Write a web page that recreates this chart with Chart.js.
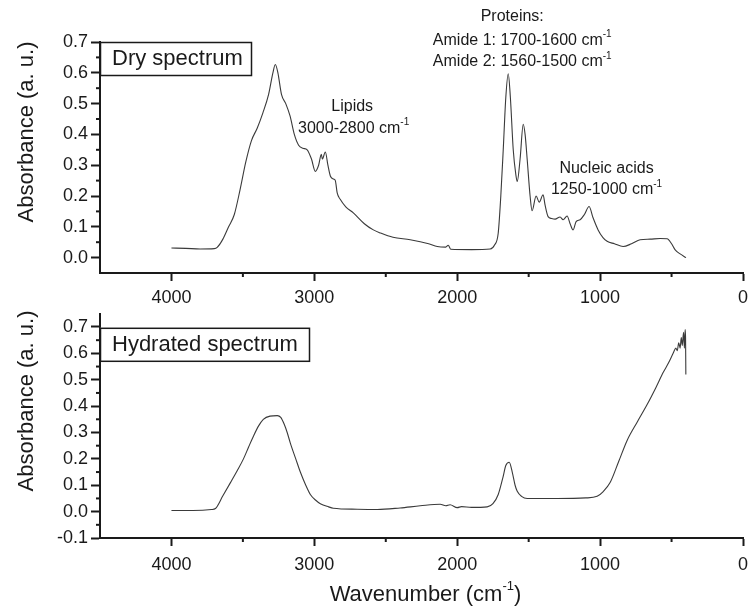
<!DOCTYPE html>
<html>
<head>
<meta charset="utf-8">
<script src="https://cdn.jsdelivr.net/npm/chart.js@4.4.0/dist/chart.umd.min.js"></script>
<style>
  body { margin: 0; background: #fff; width: 749px; height: 609px; position: relative; overflow: hidden; }
  canvas { position: absolute; left: 0; }
</style>
</head>
<body>
<canvas id="dryChart" width="749" height="330" style="top:0"></canvas>
<canvas id="hydChart" width="749" height="309" style="top:300px"></canvas>
<script>
// dry spectrum (wavenumber cm-1, absorbance)
const dryWavenumber = [4000, 3900, 3800, 3700, 3680, 3640, 3600, 3560, 3520, 3480, 3440, 3400, 3360, 3320, 3290, 3273, 3255, 3230, 3200, 3170, 3140, 3110, 3080, 3050, 3020, 2993, 2970, 2951, 2944, 2923, 2905, 2888, 2865, 2853, 2840, 2820, 2780, 2727, 2650, 2587, 2538, 2450, 2329, 2200, 2140, 2080, 2063, 2045, 1900, 1769, 1740, 1713, 1695, 1678, 1660, 1643, 1628, 1608, 1590, 1580, 1560, 1538, 1525, 1510, 1490, 1476, 1448, 1426, 1399, 1385, 1364, 1340, 1315, 1280, 1259, 1231, 1210, 1189, 1168, 1140, 1110, 1077, 1050, 1014, 980, 951, 900, 839, 780, 720, 650, 580, 531, 500, 476, 440, 399];
const dryAbsorbance = [0.031, 0.030, 0.028, 0.029, 0.033, 0.06, 0.10, 0.14, 0.22, 0.31, 0.38, 0.42, 0.47, 0.53, 0.60, 0.627, 0.60, 0.53, 0.50, 0.46, 0.40, 0.365, 0.355, 0.35, 0.32, 0.28, 0.30, 0.335, 0.32, 0.343, 0.30, 0.265, 0.255, 0.25, 0.21, 0.19, 0.165, 0.145, 0.11, 0.09, 0.08, 0.066, 0.058, 0.045, 0.036, 0.034, 0.040, 0.027, 0.026, 0.028, 0.04, 0.08, 0.20, 0.35, 0.52, 0.597, 0.52, 0.35, 0.27, 0.247, 0.32, 0.433, 0.40, 0.317, 0.20, 0.152, 0.20, 0.18, 0.204, 0.17, 0.133, 0.127, 0.125, 0.132, 0.123, 0.135, 0.11, 0.09, 0.117, 0.123, 0.14, 0.166, 0.13, 0.09, 0.065, 0.053, 0.045, 0.036, 0.045, 0.058, 0.060, 0.062, 0.061, 0.045, 0.026, 0.012, 0.0];

// hydrated spectrum
const hydWavenumber = [4000, 3850, 3720, 3692, 3640, 3587, 3540, 3496, 3460, 3427, 3390, 3357, 3310, 3259, 3235, 3210, 3190, 3168, 3130, 3098, 3060, 3028, 2990, 2958, 2900, 2867, 2700, 2559, 2400, 2259, 2119, 2080, 2050, 2000, 1970, 1900, 1790, 1750, 1713, 1680, 1660, 1636, 1615, 1595, 1580, 1550, 1510, 1300, 1100, 1021, 980, 930, 870, 811, 740, 671, 610, 559, 520, 489, 470, 460, 450, 440, 432, 425, 416, 410, 405, 402, 400];
const hydAbsorbance = [0.004, 0.004, 0.008, 0.012, 0.06, 0.11, 0.155, 0.20, 0.245, 0.285, 0.325, 0.35, 0.362, 0.364, 0.357, 0.33, 0.30, 0.26, 0.20, 0.15, 0.10, 0.065, 0.043, 0.03, 0.018, 0.013, 0.009, 0.008, 0.014, 0.022, 0.028, 0.022, 0.026, 0.015, 0.019, 0.016, 0.018, 0.03, 0.065, 0.13, 0.175, 0.187, 0.15, 0.10, 0.077, 0.058, 0.05, 0.05, 0.052, 0.058, 0.075, 0.11, 0.19, 0.27, 0.34, 0.406, 0.47, 0.527, 0.565, 0.60, 0.62, 0.61, 0.64, 0.62, 0.66, 0.63, 0.68, 0.62, 0.69, 0.66, 0.52];

const xTicks = [0, 1000, 2000, 3000, 4000];
const xMinor = [500, 1500, 2500, 3500];
const dryYTicks = [0, 0.1, 0.2, 0.3, 0.4, 0.5, 0.6, 0.7];
const dryYMinor = [0.05, 0.15, 0.25, 0.35, 0.45, 0.55, 0.65];
const hydYTicks = [-0.1, 0, 0.1, 0.2, 0.3, 0.4, 0.5, 0.6, 0.7];
const hydYMinor = [-0.05, 0.05, 0.15, 0.25, 0.35, 0.45, 0.55, 0.65];

// text notes on the dry plot: [text, superscript, wavenumber, absorbance]
const dryNotes = [
  ["Lipids", "", 2735, 0.49],
  ["3000-2800 cm", "-1", 2725, 0.42],
  ["Proteins:", "", 1615, 0.781],
  ["Amide 1: 1700-1600 cm", "-1", 1545, 0.705],
  ["Amide 2: 1560-1500 cm", "-1", 1545, 0.635],
  ["Nucleic acids", "", 955, 0.29],
  ["1250-1000 cm", "-1", 955, 0.22]
];

const FONT = "'Liberation Sans', Arial, sans-serif";
const INK = "#1a1a1a";

function toPoints(xs, ys) {
  return xs.map((x, i) => ({ x: x, y: ys[i] }));
}

// text with a raised "-1" and optional text after it, centred on cx
function supText(ctx, main, sup, cx, cy, size, tail) {
  tail = tail || "";
  const supSize = Math.round(size * 0.6);
  ctx.font = size + "px " + FONT;
  const w1 = ctx.measureText(main).width;
  const w3 = ctx.measureText(tail).width;
  ctx.font = supSize + "px " + FONT;
  const w2 = sup ? ctx.measureText(sup).width : 0;
  const x = cx - (w1 + w2 + w3) / 2;
  ctx.textAlign = "left";
  ctx.textBaseline = "middle";
  ctx.font = size + "px " + FONT;
  ctx.fillText(main, x, cy);
  if (tail) ctx.fillText(tail, x + w1 + w2, cy);
  if (sup) {
    ctx.font = supSize + "px " + FONT;
    ctx.fillText(sup, x + w1, cy - size * 0.38);
  }
}

const decorations = {
  id: "decorations",
  afterDraw(chart, args, opts) {
    const { ctx, chartArea, scales: { x, y } } = chart;
    ctx.save();
    ctx.strokeStyle = INK;
    ctx.fillStyle = INK;
    ctx.lineWidth = 2;
    // minor ticks
    xMinor.forEach(v => {
      const px = x.getPixelForValue(v);
      ctx.beginPath(); ctx.moveTo(px, chartArea.bottom); ctx.lineTo(px, chartArea.bottom + 4); ctx.stroke();
    });
    opts.yMinor.forEach(v => {
      const py = y.getPixelForValue(v);
      ctx.beginPath(); ctx.moveTo(chartArea.left, py); ctx.lineTo(chartArea.left - 4, py); ctx.stroke();
    });
    // label box
    ctx.lineWidth = 1.5;
    const b = opts.box;
    ctx.fillStyle = "#fff";
    ctx.fillRect(chartArea.left, chartArea.top + b.dy, b.w, 33);
    ctx.strokeRect(chartArea.left + 0.5, chartArea.top + b.dy + 0.5, b.w, 33);
    ctx.fillStyle = INK;
    ctx.font = "22px " + FONT;
    ctx.textAlign = "left";
    ctx.textBaseline = "middle";
    ctx.fillText(b.text, chartArea.left + 12, chartArea.top + b.dy + 17);
    // y title
    ctx.save();
    ctx.translate(27, opts.yTitleY);
    ctx.rotate(-Math.PI / 2);
    ctx.textAlign = "center";
    ctx.fillText("Absorbance (a. u.)", 0, 0);
    ctx.restore();
    // notes
    (opts.notes || []).forEach(n => {
      supText(ctx, n[0], n[1], x.getPixelForValue(n[2]), y.getPixelForValue(n[3]), 16);
    });
    if (opts.xTitle) {
      supText(ctx, "Wavenumber (cm", "-1", (chartArea.left + chartArea.right) / 2 + 4, opts.xTitleY, 22, ")");
    }
    ctx.restore();
  }
};

function makeChart(id, points, yMin, yMax, yTicks, xHeight, padTop, labelPad, deco) {
  return new Chart(document.getElementById(id), {
    type: "scatter",
    data: {
      datasets: [{
        data: points,
        showLine: true,
        borderColor: "#3a3a3a",
        borderWidth: 1.1,
        pointRadius: 0,
        cubicInterpolationMode: "monotone"
      }]
    },
    options: {
      responsive: false,
      animation: false,
      events: [],
      layout: { padding: { top: padTop, right: 6, left: 0, bottom: 0 } },
      plugins: { legend: { display: false }, tooltip: { enabled: false }, decorations: deco },
      scales: {
        x: {
          type: "linear", reverse: true, min: 0, max: 4500,
          afterBuildTicks: s => { s.ticks = xTicks.map(v => ({ value: v })); },
          afterFit: s => { s.height = xHeight; },
          grid: { drawOnChartArea: false, tickLength: 8, tickWidth: 2, tickColor: INK },
          border: { color: INK, width: 2 },
          ticks: { font: { size: 18, family: FONT }, color: INK, padding: labelPad, maxRotation: 0, callback: v => String(v) }
        },
        y: {
          min: yMin, max: yMax,
          afterBuildTicks: s => { s.ticks = yTicks.map(v => ({ value: v })); },
          afterFit: s => { s.width = 100; },
          grid: { drawOnChartArea: false, tickLength: 9, tickWidth: 2, tickColor: INK },
          border: { color: INK, width: 2 },
          ticks: { font: { size: 18, family: FONT }, color: INK, padding: 3, callback: v => v.toFixed(1) }
        }
      }
    },
    plugins: [decorations]
  });
}

makeChart("dryChart", toPoints(dryWavenumber, dryAbsorbance), -0.05, 0.7, dryYTicks, 57, 42, 6, {
  yMinor: dryYMinor, box: { text: "Dry spectrum", w: 151, dy: 0 }, yTitleY: 132, notes: dryNotes
});
makeChart("hydChart", toPoints(hydWavenumber, hydAbsorbance), -0.1, 0.75, hydYTicks, 71, 7, 8, {
  yMinor: hydYMinor, box: { text: "Hydrated spectrum", w: 209, dy: 14 }, yTitleY: 101, xTitle: true, xTitleY: 295
});
</script>
</body>
</html>
